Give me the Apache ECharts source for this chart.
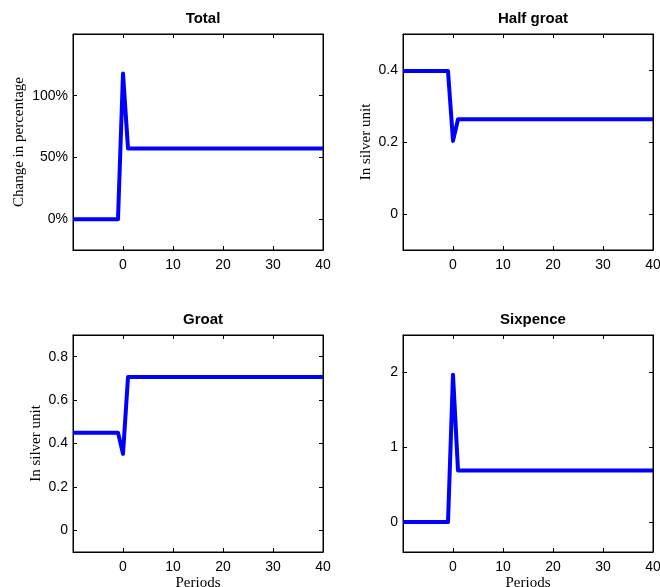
<!DOCTYPE html>
<html><head><meta charset="utf-8">
<script src="https://cdn.jsdelivr.net/npm/echarts@6/dist/echarts.min.js"></script>
<style>html,body{margin:0;padding:0;background:#fff}#c{width:660px;height:587px}</style>
</head><body><div id="c"></div>
<script>
const periods = [-10,-9,-8,-7,-6,-5,-4,-3,-2,-1,0,1,2,3,4,5,6,7,8,9,10,11,12,13,14,15,16,17,18,19,20,21,22,23,24,25,26,27,28,29,30,31,32,33,34,35,36,37,38,39,40];
const totalPre = 0, totalPeak = 1.18, totalPost = 0.573;
const halfPre = 0.397, halfDip = 0.203, halfPost = 0.263;
const groatPre = 0.45, groatDip = 0.352, groatPost = 0.706;
const sixPre = 0, sixPeak = 1.97, sixPost = 0.69;
const titles = ['Total','Half groat','Groat','Sixpence'];
const yLabels = ['Change in percentage','In silver unit','In silver unit',''];
const xLabelText = 'Periods';
const yMins = [-0.25,-0.1,-0.1,-0.4];
const yMaxs = [1.5,0.5,0.9,2.5];
const yIntervals = [0.25,0.1,0.1,0.1];
const yTicks = [[0,0.5,1],[0,0.2,0.4],[0,0.2,0.4,0.6,0.8],[0,1,2]];
const xTicks = [0,10,20,30,40];

function build(pre, shock, post){
  return periods.map(p => [p, p < 0 ? pre : (p === 0 ? shock : post)]);
}
const seriesData = [
  build(totalPre,totalPeak,totalPost),
  build(halfPre,halfDip,halfPost),
  build(groatPre,groatDip,groatPost),
  build(sixPre,sixPeak,sixPost)
];

const grids = [
  {left:73, top:34, width:250, height:216},
  {left:403, top:34, width:250, height:216},
  {left:73, top:335, width:250, height:217},
  {left:403, top:335, width:250, height:217}
];
const near = (v,arr)=>arr.some(t=>Math.abs(t-v)<1e-6);
const option = {
  animation:false,
  title: titles.map((t,i)=>({text:t, left:grids[i].left+grids[i].width/2, top:grids[i].top-28, textAlign:'center',
    textStyle:{fontFamily:'Liberation Sans',fontWeight:'bold',fontSize:15,color:'#000'}})),
  grid: grids.map(g=>Object.assign({show:true,borderColor:'#000',borderWidth:1,backgroundColor:'#fff',
    containLabel:false,outerBoundsMode:'none'},g)),
  xAxis: [], yAxis: [], series: []
};
const yGaps = [46,29,29,29];
for(let i=0;i<4;i++){
  option.xAxis.push({type:'value',gridIndex:i,min:-10,max:40,interval:10,position:'bottom',
    axisLine:{show:true,onZero:false,lineStyle:{color:'#000',width:1}},
    axisTick:{show:true,inside:true,length:4,lineStyle:{color:'#000'}},
    splitLine:{show:false},
    axisLabel:{show:true,color:'#000',fontFamily:'Liberation Sans',fontSize:14,margin:8,
      formatter:v=>near(v,xTicks)?String(v):''},
    name: i>=2 ? xLabelText : '', nameLocation:'middle', nameGap:24,
    nameTextStyle:{fontFamily:'Liberation Serif',fontSize:15,color:'#000'}});
  option.xAxis.push({type:'value',gridIndex:i,min:-10,max:40,interval:10,position:'top',
    axisLine:{show:true,onZero:false,lineStyle:{color:'#000'}},
    axisTick:{show:true,inside:true,length:4,lineStyle:{color:'#000'}},
    axisLabel:{show:false},splitLine:{show:false}});
  const yt = yTicks[i];
  const pct = i===0;
  option.yAxis.push({type:'value',gridIndex:i,min:yMins[i],max:yMaxs[i],interval:yIntervals[i],position:'left',
    axisLine:{show:true,onZero:false,lineStyle:{color:'#000'}},
    axisTick:{show:true,inside:true,length:4,lineStyle:{color:'#000'},customValues: yt},
    splitLine:{show:false},
    axisLabel:{color:'#000',fontFamily:'Liberation Sans',fontSize:14,margin:5,customValues: yt,
      formatter:v=> pct ? Math.round(v*100)+'%' : String(Math.round(v*10)/10)},
    name:yLabels[i], nameLocation:'middle', nameGap: yGaps[i], nameRotate:90,
    nameTextStyle:{fontFamily:'Liberation Serif',fontSize:15,color:'#000'}});
  option.yAxis.push({type:'value',gridIndex:i,min:yMins[i],max:yMaxs[i],interval:yIntervals[i],position:'right',
    axisLine:{show:true,onZero:false,lineStyle:{color:'#000'}},
    axisTick:{show:true,inside:true,length:4,lineStyle:{color:'#000'},customValues: yt},
    axisLabel:{show:false},splitLine:{show:false}});
  option.series.push({type:'line',xAxisIndex:2*i,yAxisIndex:2*i,data:seriesData[i],showSymbol:false,
    lineStyle:{color:'#0000ff',width:4,join:'round',cap:'butt'},itemStyle:{color:'#0000ff'}});
}
echarts.init(document.getElementById('c')).setOption(option);
</script></body></html>
